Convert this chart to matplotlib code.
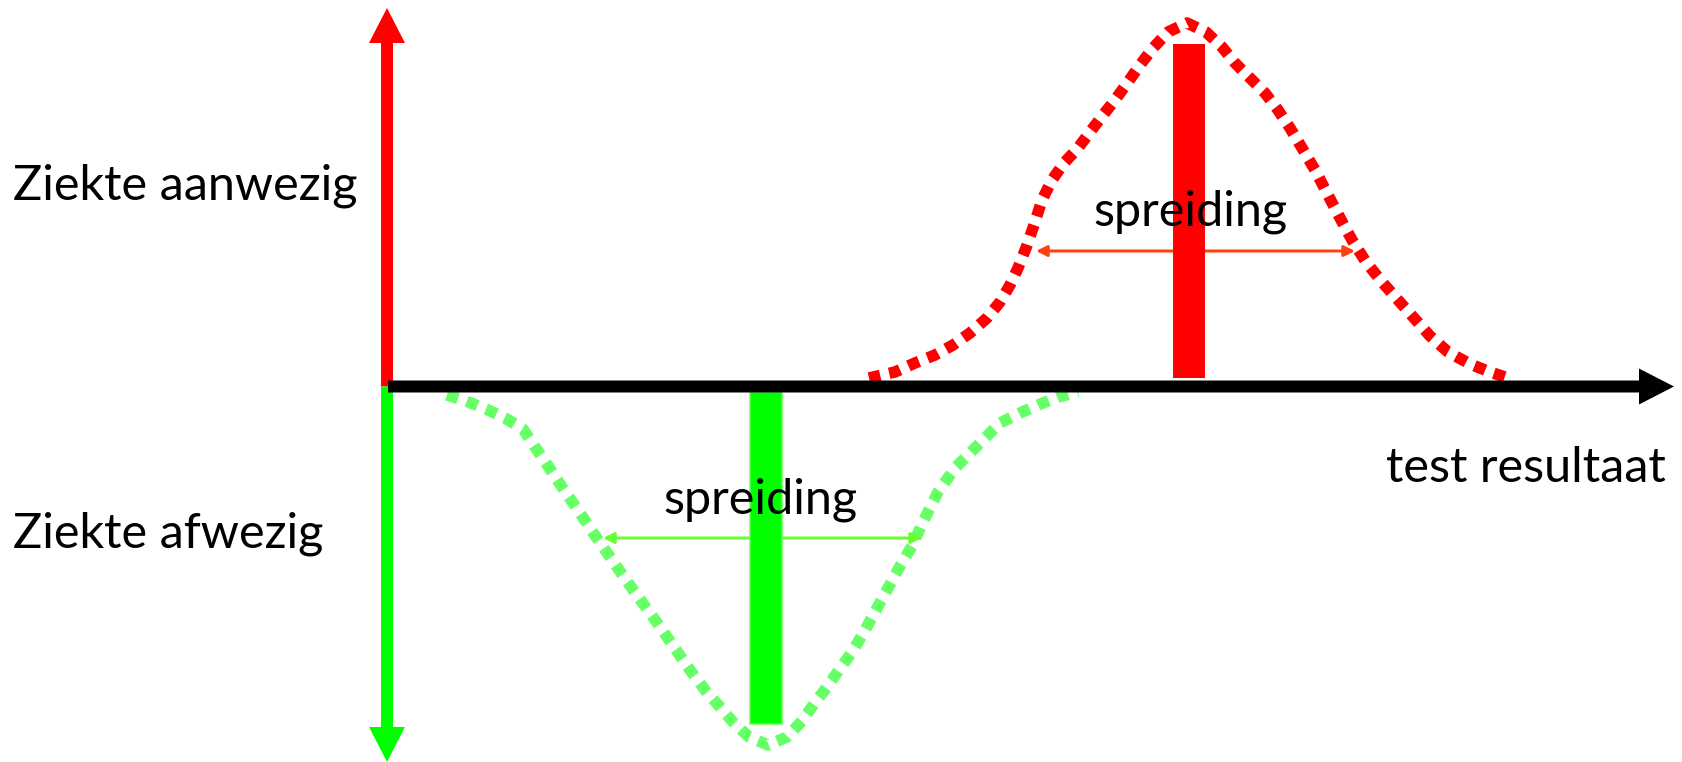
import matplotlib
matplotlib.use("Agg")
import matplotlib.pyplot as plt
from matplotlib.patches import FancyArrow

# canvas in pixel units (x right, y down)
W, H = 1683, 762

# dotted distribution curves
red_x = [869, 895, 915, 935, 953, 970, 987, 1000, 1010, 1018, 1026, 1034, 1042,
         1052, 1064, 1078, 1090, 1103, 1115, 1128, 1140, 1153, 1168, 1187,
         1206, 1222, 1235, 1250, 1265, 1278, 1290, 1302, 1315, 1328, 1340,
         1352, 1366, 1382, 1398, 1414, 1430, 1448, 1470, 1490, 1508]
red_y = [378, 372, 363, 355, 345, 333, 318, 302, 285, 268, 248, 225, 200,
         180, 163, 148, 132, 115, 100, 82, 65, 48, 32, 23,
         32, 47, 63, 78, 93, 110, 128, 148, 170, 195, 218,
         240, 262, 282, 300, 318, 336, 352, 364, 372, 378]

green_x = [447, 466, 486, 505, 523, 535, 548, 562, 578, 594, 610, 626, 642,
           658, 674, 690, 705, 720, 733, 749, 768, 787, 802, 814, 827,
           839, 852, 864, 876, 888, 900, 912, 924, 938, 955, 975, 1000,
           1020, 1038, 1058, 1078]
green_y = [395, 401, 409, 418, 429, 447, 466, 487, 510, 534, 557, 580, 602,
           624, 647, 670, 690, 707, 722, 737, 745, 737, 721, 704, 687,
           670, 652, 632, 610, 588, 566, 546, 520, 492, 468, 448, 423,
           413, 405, 397, 392]

# mean bars
red_bar = (1189, 44, 378)      # centre x, top, bottom
green_bar = (766, 392, 724)
bar_width = 32

# spread arrows: (y, x_left, x_right)
red_spread = (251, 1036, 1355)
green_spread = (538, 603, 922)

# axes arrows
origin = (387, 386.5)
red_tip_y = 8
green_tip_y = 762
x_tip = 1674

labels = {
    "aanwezig": "Ziekte aanwezig",
    "afwezig": "Ziekte afwezig",
    "spread": "spreiding",
    "xlabel": "test resultaat",
}

plt.rcParams["font.family"] = ["Lato", "DejaVu Sans"]

fig = plt.figure(figsize=(W / 100, H / 100), dpi=100)
ax = fig.add_axes([0, 0, 1, 1])
ax.set_xlim(0, W)
ax.set_ylim(H, 0)
ax.axis("off")

px = 0.72  # points per pixel

# curves
ax.plot(red_x, red_y, color="#ff0000", lw=11.5 * px, dashes=(1.0, 0.8),
        solid_capstyle="butt", dash_capstyle="butt", zorder=2)
ax.plot(green_x, green_y, color="#66ff66", lw=11.5 * px, dashes=(1.0, 0.8),
        solid_capstyle="butt", dash_capstyle="butt", zorder=2)

# spread arrows
for (y, x0, x1), col in [(red_spread, "#ff4010"), (green_spread, "#66ff33")]:
    ax.annotate("", xy=(x1, y), xytext=(x0, y),
                arrowprops=dict(arrowstyle="<|-|>", color=col, lw=3 * px,
                                mutation_scale=16, shrinkA=0, shrinkB=0),
                zorder=3)

# bars
ax.bar(red_bar[0], red_bar[2] - red_bar[1], bottom=red_bar[1], width=bar_width,
       color="#ff0000", zorder=4)
ax.bar(green_bar[0], green_bar[2] - green_bar[1], bottom=green_bar[1],
       width=bar_width, color="#00ff00", edgecolor="#66ff55", lw=1.5 * px,
       zorder=4)

# vertical axis: red up, green down
ox, oy = origin
ax.add_patch(FancyArrow(ox, oy, 0, red_tip_y - oy, width=12, head_width=36,
                        head_length=35, length_includes_head=True,
                        color="#ff0000", lw=0, zorder=5))
ax.add_patch(FancyArrow(ox, oy, 0, green_tip_y - oy, width=12, head_width=36,
                        head_length=35, length_includes_head=True,
                        color="#00ff00", lw=0, zorder=5))
# horizontal axis
ax.add_patch(FancyArrow(ox + 1, oy, x_tip - ox - 1, 0, width=12, head_width=36,
                        head_length=35, length_includes_head=True,
                        color="black", lw=0, zorder=6))

fs = 35
ax.text(13, 199, labels["aanwezig"], fontsize=fs, ha="left", va="baseline", zorder=7)
ax.text(13, 547, labels["afwezig"], fontsize=fs, ha="left", va="baseline", zorder=7)
ax.text(1190, 225, labels["spread"], fontsize=fs, ha="center", va="baseline", zorder=7)
ax.text(760, 513, labels["spread"], fontsize=fs, ha="center", va="baseline", zorder=7)
ax.text(1526, 482, labels["xlabel"], fontsize=fs, ha="center", va="baseline", zorder=7)

fig.savefig("out.png", dpi=100, facecolor="white")
